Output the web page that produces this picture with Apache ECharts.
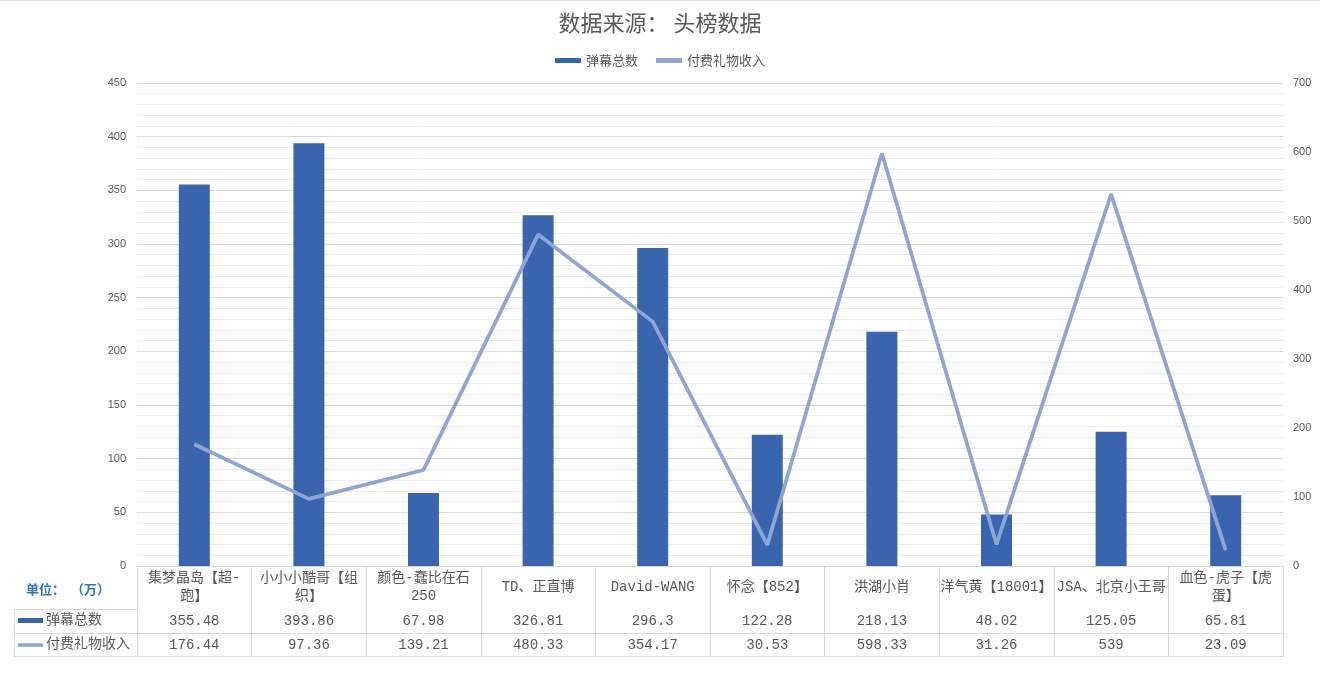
<!DOCTYPE html>
<html>
<head>
<meta charset="utf-8">
<script src="https://cdn.jsdelivr.net/npm/echarts@6/dist/echarts.min.js"></script>
<style>
html,body{margin:0;padding:0;background:#fff;}
#c{width:1320px;height:686px;}
</style>
</head>
<body>
<div id="c"></div>
<script>
const categories = ['集梦晶岛【超-跑】','小小小酷哥【组织】','颜色-蠢比在石250','TD、正直博','David-WANG','怀念【852】','洪湖小肖','洋气黄【18001】','JSA、北京小王哥','血色-虎子【虎蛋】'];
const headerLabels = ['集梦晶岛【超-\n跑】','小小小酷哥【组\n织】','颜色-蠢比在石\n250','TD、正直博','David-WANG','怀念【852】','洪湖小肖','洋气黄【18001】','JSA、北京小王哥','血色-虎子【虎\n蛋】'];
const danmuTotal = [355.48, 393.86, 67.98, 326.81, 296.3, 122.28, 218.13, 48.02, 125.05, 65.81];
const giftIncome = [176.44, 97.36, 139.21, 480.33, 354.17, 30.53, 598.33, 31.26, 539, 23.09];
const seriesNames = ['弹幕总数', '付费礼物收入'];

const BAR = '#3a64ad';
const LINE = '#8fa5d4';
const TXT = '#595959';
const GRID = '#d9d9d9';
const FONT = "'Liberation Mono','Noto Sans CJK SC',monospace";
const CJK = "'Noto Sans CJK SC','Noto Sans CJK JP',sans-serif";

const chart = echarts.init(document.getElementById('c'));
const baseX = {type:'category', data:categories, position:'bottom', boundaryGap:true};
chart.setOption({
  animation:false,
  title:{text:'数据来源： 头榜数据', left:'center', top:7,
    textStyle:{fontSize:22, fontWeight:'normal', color:TXT, fontFamily:CJK}},
  legend:{top:49, left:'center', itemWidth:26, itemHeight:5, itemGap:18,
    textStyle:{fontSize:13, color:TXT, fontFamily:CJK},
    data:[{name:seriesNames[0], icon:'rect'}, {name:seriesNames[1], icon:'rect'}]},
  grid:{left:137, right:37, top:83, bottom:120, containLabel:false},
  xAxis:[
    Object.assign({}, baseX, {
      axisLine:{show:true, lineStyle:{color:GRID}},
      axisTick:{show:true, interval:0, length:90, lineStyle:{color:GRID}},
      axisLabel:{interval:0, formatter:(v,i)=>headerLabels[i], margin:21, verticalAlign:'middle',
        fontSize:14, lineHeight:18, color:TXT, fontFamily:FONT}
    }),
    Object.assign({}, baseX, {
      offset:43,
      axisLine:{show:true, lineStyle:{color:GRID}},
      axisTick:{show:false},
      axisLabel:{interval:0, formatter:(v,i)=>String(danmuTotal[i]), margin:12, verticalAlign:'middle',
        fontSize:14, color:TXT, fontFamily:FONT}
    }),
    Object.assign({}, baseX, {
      offset:67,
      axisLine:{show:true, lineStyle:{color:GRID}},
      axisTick:{show:false},
      axisLabel:{interval:0, formatter:(v,i)=>String(giftIncome[i]), margin:12, verticalAlign:'middle',
        fontSize:14, color:TXT, fontFamily:FONT}
    }),
    Object.assign({}, baseX, {
      offset:90,
      axisLine:{show:true, lineStyle:{color:GRID}},
      axisTick:{show:false},
      axisLabel:{show:false}
    })
  ],
  yAxis:[
    {type:'value', min:0, max:450, interval:50,
      axisLine:{show:false}, axisTick:{show:false},
      axisLabel:{fontSize:11, color:TXT, margin:11, fontFamily:"'Liberation Sans',sans-serif"},
      splitLine:{show:true, lineStyle:{color:GRID}},
      minorTick:{show:false, splitNumber:5},
      minorSplitLine:{show:true, lineStyle:{color:'#ececec'}}
    },
    {type:'value', min:0, max:700, interval:100, position:'right',
      axisLine:{show:false}, axisTick:{show:false},
      axisLabel:{fontSize:11, color:TXT, margin:10, fontFamily:"'Liberation Sans',sans-serif"},
      splitLine:{show:false}
    }
  ],
  series:[
    {name:seriesNames[0], type:'bar', xAxisIndex:0, yAxisIndex:0, data:danmuTotal,
      barWidth:31, itemStyle:{color:BAR}},
    {name:seriesNames[1], type:'line', xAxisIndex:0, yAxisIndex:1, data:giftIncome,
      symbol:'none', lineStyle:{color:LINE, width:3.75}, itemStyle:{color:LINE}}
  ],
  graphic:[
    {type:'line', shape:{x1:0,y1:0.5,x2:1320,y2:0.5}, style:{stroke:GRID, lineWidth:1}},
    {type:'line', shape:{x1:14,y1:609.5,x2:137,y2:609.5}, style:{stroke:GRID, lineWidth:1}},
    {type:'line', shape:{x1:14,y1:633.5,x2:137,y2:633.5}, style:{stroke:GRID, lineWidth:1}},
    {type:'line', shape:{x1:14,y1:656.5,x2:137,y2:656.5}, style:{stroke:GRID, lineWidth:1}},
    {type:'line', shape:{x1:14.5,y1:609,x2:14.5,y2:657}, style:{stroke:GRID, lineWidth:1}},
    {type:'text', left:26, top:583, style:{text:'单位：  （万）', fill:'#2e75b6', fontSize:13, fontWeight:'bold', fontFamily:CJK}},
    {type:'rect', shape:{x:18,y:618,width:25,height:5}, style:{fill:BAR}},
    {type:'text', left:46, top:612, style:{text:seriesNames[0], fill:TXT, fontSize:14, fontFamily:CJK}},
    {type:'line', shape:{x1:18,y1:645,x2:43,y2:645}, style:{stroke:LINE, lineWidth:3.5}},
    {type:'text', left:46, top:636, style:{text:seriesNames[1], fill:TXT, fontSize:14, fontFamily:CJK}}
  ]
});
</script>
</body>
</html>
